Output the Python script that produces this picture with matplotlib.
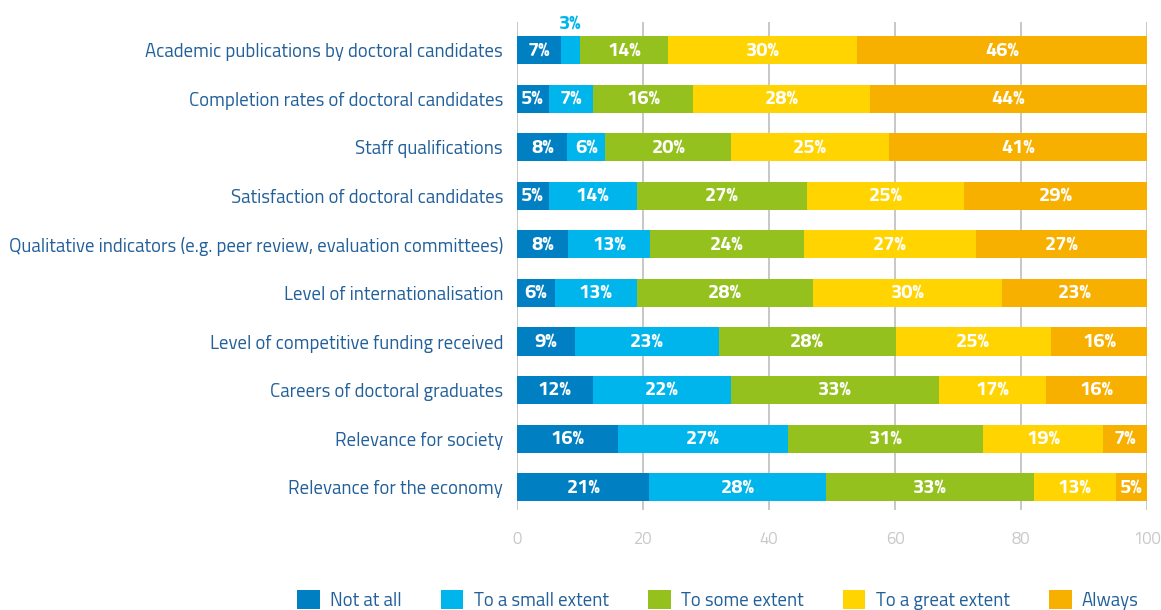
import matplotlib
matplotlib.use("Agg")
import matplotlib.pyplot as plt
from matplotlib.patches import Patch
import numpy as np

categories = [
    "Academic publications by doctoral candidates",
    "Completion rates of doctoral candidates",
    "Staff qualifications",
    "Satisfaction of doctoral candidates",
    "Qualitative indicators (e.g. peer review, evaluation committees)",
    "Level of internationalisation",
    "Level of competitive funding received",
    "Careers of doctoral graduates",
    "Relevance for society",
    "Relevance for the economy",
]
series_names = ["Not at all", "To a small extent", "To some extent", "To a great extent", "Always"]
not_at_all = [7, 5, 8, 5, 8.1, 6, 9.2, 12, 16, 21]
small_extent = [3, 7, 6, 14, 13.0, 13, 22.8, 22, 27, 28]
some_extent = [14, 16, 20, 27, 24.4, 28, 28.1, 33, 31, 33]
great_extent = [30, 28, 25, 25, 27.4, 30, 24.6, 17, 19, 13]
always = [46, 44, 41, 29, 27.1, 23, 15.6, 16, 7, 5]
ticks = [0, 20, 40, 60, 80, 100]

colors = ["#0080C3", "#00B5EB", "#95C11F", "#FFD400", "#F8B000"]
label_color = "#22609A"
font = ["Titillium Web", "Roboto Condensed", "DejaVu Sans"]
plt.rcParams['font.family'] = font

fig = plt.figure(figsize=(11.61, 6.10), dpi=100)
ax = fig.add_axes([517/1161, 1-510/610, (1147-517)/1161, (510-22)/610])

data = [not_at_all, small_extent, some_extent, great_extent, always]
y = np.arange(len(categories))
left = np.zeros(len(categories))
for vals, c, name in zip(data, colors, series_names):
    vals = np.array(vals, dtype=float)
    ax.barh(y, vals, left=left, height=0.58, color=c, zorder=2, label=name)
    for i, (v, l) in enumerate(zip(vals, left)):
        if v >= 4:
            ax.text(l + v/2, y[i], f"{v:.0f}%", ha="center", va="center",
                    color="white", fontsize=14.5, fontweight="bold", zorder=3)
        else:
            ax.text(l + v/2, y[i] - 0.55, f"{v:.0f}%", ha="center", va="center",
                    color=colors[1], fontsize=14.5, fontweight="bold", zorder=3)
    left += vals

ax.set_xlim(0, 100)
ax.set_ylim(len(categories) - 1 + 0.47, -0.58)
ax.set_yticks(y)
ax.set_yticklabels(categories, fontsize=13.5, color=label_color)
ax.set_xticks(ticks)
ax.set_xticklabels([str(t) for t in ticks], fontsize=12, color="#C8C8C8")
ax.tick_params(axis="y", length=0, pad=10)
ax.tick_params(axis="x", length=0, pad=15)
for s in ax.spines.values():
    s.set_visible(False)
ax.xaxis.grid(True, color="#BDBDBD", linewidth=1.2, zorder=0)
ax.set_axisbelow(True)

handles = [Patch(facecolor=c, edgecolor="none") for c in colors]
leg = fig.legend(handles, series_names, loc="center left", bbox_to_anchor=(297/1161, 1 - 600/610),
                 ncol=5, frameon=False, fontsize=13.5, handlelength=1.2, handleheight=1.2,
                 columnspacing=2.1, handletextpad=0.55, borderaxespad=0, borderpad=0)
for t in leg.get_texts():
    t.set_color(label_color)

fig.savefig("out.png", dpi=100)
